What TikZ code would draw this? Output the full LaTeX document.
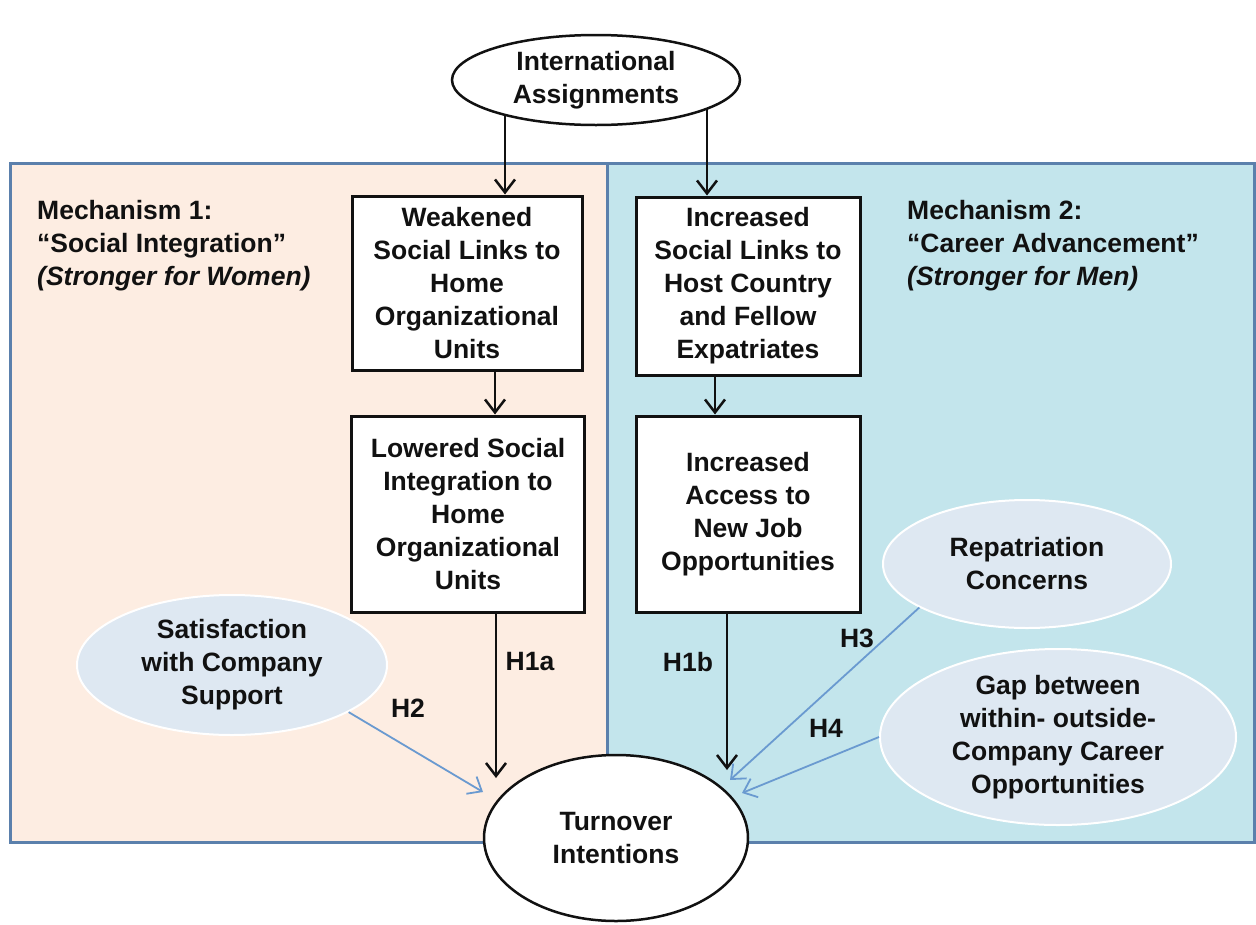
\documentclass[tikz,border=0pt]{standalone}
\usepackage{fontspec}
\setmainfont{Liberation Sans}
\usetikzlibrary{shapes.geometric,arrows.meta}

\definecolor{peach}{HTML}{FDEDE2}
\definecolor{aqua}{HTML}{C3E5EC}
\definecolor{frameblue}{HTML}{5B80AC}
\definecolor{ovalfill}{HTML}{DEE8F2}
\definecolor{linkblue}{HTML}{6A9AD0}
\definecolor{ink}{HTML}{111111}

\begin{document}
\begin{tikzpicture}[x=1pt,y=-1pt,
    every node/.style={text=ink, font=\fontsize{26.5}{33}\selectfont\bfseries},
    box/.style={draw=ink, line width=3pt, fill=white, align=center, inner sep=0pt},
    oval/.style={ellipse, draw=white, line width=2pt, fill=ovalfill, align=center, inner sep=0pt},
    bigoval/.style={ellipse, draw=ink, line width=2.5pt, fill=white, align=center, inner sep=0pt},
    arr/.style={draw=ink, line width=2.5pt, -{Straight Barb[length=13pt,width=20pt]}},
    link/.style={draw=linkblue, line width=1.8pt, -{Straight Barb[length=12pt,width=20pt]}}]
    \useasboundingbox (0,0) rectangle (1256,924);

    % panels
    \fill[peach] (10,163) rectangle (607,842);
    \fill[aqua] (607,163) rectangle (1254,842);
    \draw[frameblue, line width=3pt] (10,163) rectangle (1254,842);
    \draw[frameblue, line width=3pt] (607,163) -- (607,842);

    \node [anchor=north west, align=left, inner sep=0pt] (mech1) at (37,200)
        {Mechanism 1:\\``Social Integration''\\\textit{(Stronger for Women)}};
    \node [anchor=north west, align=left, inner sep=0pt] (mech2) at (907,200)
        {Mechanism 2:\\``Career Advancement''\\\textit{(Stronger for Men)}};

    % main nodes
    \node [bigoval, minimum width=288pt, minimum height=90pt] (ia) at (596,80)
        {International\\Assignments};
    \node [box, minimum width=230pt, minimum height=174pt] (weak) at (467,283)
        {Weakened\\Social Links to\\Home\\Organizational\\Units};
    \node [box, minimum width=233pt, minimum height=196pt] (lower) at (468,514)
        {Lowered Social\\Integration to\\Home\\Organizational\\Units};
    \node [box, minimum width=224pt, minimum height=178pt] (host) at (748,286)
        {Increased\\Social Links to\\Host Country\\and Fellow\\Expatriates};
    \node [box, minimum width=224pt, minimum height=196pt] (access) at (748,514)
        {Increased\\Access to\\New Job\\Opportunities};
    \node [oval, minimum width=310pt, minimum height=140pt] (sat) at (232,665)
        {Satisfaction\\with Company\\Support};
    \node [oval, minimum width=288pt, minimum height=128pt] (repat) at (1027,564)
        {Repatriation\\Concerns};
    \node [oval, minimum width=356pt, minimum height=176pt] (gap) at (1058,737)
        {Gap between\\within- outside-\\Company Career\\Opportunities};
    \node [bigoval, minimum width=264pt, minimum height=166pt] (turn) at (616,838)
        {Turnover\\Intentions};

    % arrow ends
    \coordinate (S1) at (505,115);
    \coordinate (S2) at (707,109);
    \coordinate (C1) at (495,0);
    \coordinate (C2) at (715,0);
    \coordinate (T1) at (496,778);
    \coordinate (T2) at (727,770);
    \coordinate (T3) at (483,792);
    \coordinate (T4) at (730,780);
    \coordinate (T5) at (742,793);

    \draw [arr] (S1) -- (S1 |- weak.north);
    \draw [arr] (S2) -- (S2 |- host.north);
    \draw [arr] (weak.south -| C1) -- (lower.north -| C1);
    \draw [arr] (host.south -| C2) -- (access.north -| C2);
    \draw [arr] (lower.south -| T1) -- (T1);
    \draw [arr] (access.south -| T2) -- (T2);
    \draw [link] (sat.-22) -- (T3);
    \draw [link] (repat.-158) -- (T4);
    \draw [link] (gap.west) -- (T5);

    \node (h1a) at (530,662) {H1a};
    \node (h1b) at (688,662) {H1b};
    \node (h2) at (408,708) {H2};
    \node (h3) at (857,638) {H3};
    \node (h4) at (826,728) {H4};
\end{tikzpicture}
\end{document}
